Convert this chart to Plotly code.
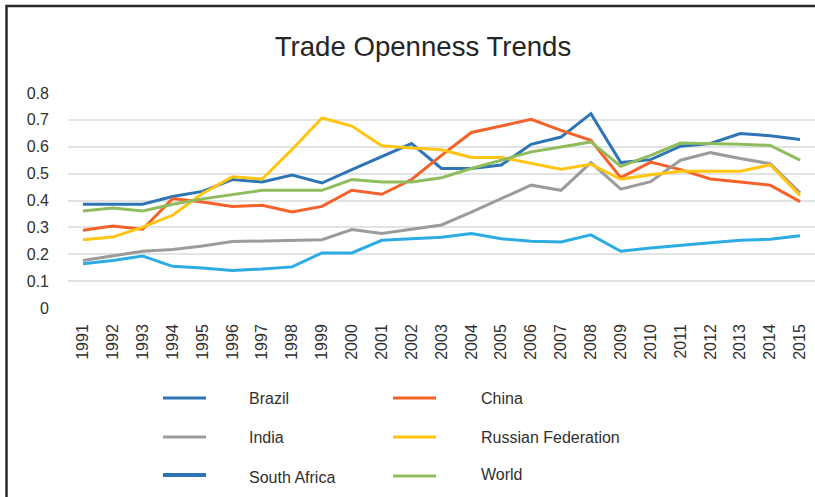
import plotly.graph_objects as go

# ---- data -------------------------------------------------------------
years = [str(y) for y in range(1991, 2016)]

brazil = [0.386, 0.386, 0.386, 0.415, 0.434, 0.478, 0.469, 0.495, 0.465, 0.515,
          0.564, 0.612, 0.519, 0.519, 0.532, 0.609, 0.636, 0.723, 0.541, 0.552,
          0.602, 0.612, 0.649, 0.641, 0.627]
china = [0.289, 0.305, 0.293, 0.407, 0.394, 0.378, 0.382, 0.357, 0.378, 0.438,
         0.423, 0.478, 0.568, 0.653, 0.677, 0.702, 0.661, 0.624, 0.485, 0.543,
         0.515, 0.480, 0.469, 0.457, 0.396]
india = [0.177, 0.193, 0.211, 0.218, 0.231, 0.247, 0.249, 0.251, 0.254, 0.292,
         0.277, 0.293, 0.309, 0.357, 0.407, 0.457, 0.438, 0.541, 0.442, 0.470,
         0.550, 0.578, 0.556, 0.537, 0.429]
russia = [0.254, 0.264, 0.301, 0.345, 0.426, 0.488, 0.480, 0.590, 0.707, 0.677,
          0.604, 0.595, 0.589, 0.560, 0.560, 0.537, 0.516, 0.535, 0.479, 0.496,
          0.509, 0.509, 0.509, 0.533, 0.419]
south_africa = [0.165, 0.177, 0.193, 0.155, 0.149, 0.140, 0.145, 0.153, 0.205, 0.205,
                0.252, 0.257, 0.263, 0.277, 0.258, 0.248, 0.246, 0.272, 0.211, 0.223,
                0.234, 0.243, 0.252, 0.256, 0.269]
world = [0.361, 0.372, 0.361, 0.386, 0.406, 0.422, 0.438, 0.438, 0.438, 0.478,
         0.469, 0.469, 0.485, 0.519, 0.550, 0.581, 0.599, 0.618, 0.527, 0.568,
         0.614, 0.612, 0.609, 0.605, 0.550]

y_ticks = [0, 0.1, 0.2, 0.3, 0.4, 0.5, 0.6, 0.7, 0.8]

# ---- styling ----------------------------------------------------------
FONT = "Liberation Sans, Arial, sans-serif"
TEXT = "#303030"

series = [
    ("Brazil", brazil, "#2E75B6"),
    ("China", china, "#F4622A"),
    ("India", india, "#9B9B9B"),
    ("Russian Federation", russia, "#FFC511"),
    ("South Africa", south_africa, "#2CACE3"),
    ("World", world, "#8FBC5C"),
]

# legend entries: (label, swatch colour, column, line y, text y)
legend_items = [
    ("Brazil", "#2E75B6", 0, 398, 398),
    ("China", "#F4622A", 1, 398, 398),
    ("India", "#9B9B9B", 0, 437, 437),
    ("Russian Federation", "#FFC511", 1, 437, 437),
    ("South Africa", "#2E75B6", 0, 475, 477),
    ("World", "#8FBC5C", 1, 476, 474),
]

W, H = 815, 497
ML, MR, MT, MB = 68, 0, 93, 189
PW, PH = W - ML - MR, H - MT - MB


def px_x(x):
    return (x - ML) / PW


def px_y(y):
    return (H - MB - y) / PH


fig = go.Figure()
for name, vals, color in series:
    fig.add_trace(go.Scatter(
        x=years, y=vals, name=name, mode="lines",
        line=dict(color=color, width=3),
        showlegend=False,
    ))

shapes = []
annotations = []

# outer frame (left and top edges visible)
shapes.append(dict(type="rect", xref="paper", yref="paper",
                   x0=px_x(6.5), x1=px_x(W + 20), y0=px_y(H + 20), y1=px_y(6),
                   line=dict(color="#2a2a2a", width=2.5), layer="above"))

# manual legend
col_line_x = [(163, 206), (393, 436)]
col_text_x = [247, 479]
for label, color, col, ly, ty in legend_items:
    x0, x1 = col_line_x[col]
    shapes.append(dict(type="line", xref="paper", yref="paper",
                       x0=px_x(x0), x1=px_x(x1), y0=px_y(ly), y1=px_y(ly),
                       line=dict(color=color, width=4 if label == "South Africa" else 3)))
    annotations.append(dict(xref="paper", yref="paper", x=px_x(col_text_x[col]), y=px_y(ty),
                            text=label, showarrow=False, xanchor="left", yanchor="middle",
                            font=dict(family=FONT, size=16, color=TEXT)))

fig.update_layout(
    width=W, height=H,
    margin=dict(l=ML, r=MR, t=MT, b=MB, pad=0),
    paper_bgcolor="white", plot_bgcolor="white",
    title=dict(text="Trade Openness Trends", x=423 / W, xanchor="center",
               y=1 - 46 / H, yanchor="middle",
               font=dict(family=FONT, size=27.6, color="#262626")),
    font=dict(family=FONT, size=16, color=TEXT),
    shapes=shapes,
    annotations=annotations,
    showlegend=False,
)
fig.update_xaxes(type="category", range=[-0.5, 24.5], showgrid=False,
                 showline=False, zeroline=False, tickangle=-90,
                 ticks="", ticklabelstandoff=12,
                 tickfont=dict(family=FONT, size=16, color=TEXT))
fig.update_yaxes(range=[0, 0.8], tickvals=y_ticks,
                 ticktext=[f"{v:g}" for v in y_ticks],
                 showgrid=True, gridcolor="#E3E3E3", gridwidth=1.5,
                 zeroline=False, showline=False, ticks="",
                 ticklabelstandoff=18,
                 tickfont=dict(family=FONT, size=16, color=TEXT))

fig.write_html("out.html")
